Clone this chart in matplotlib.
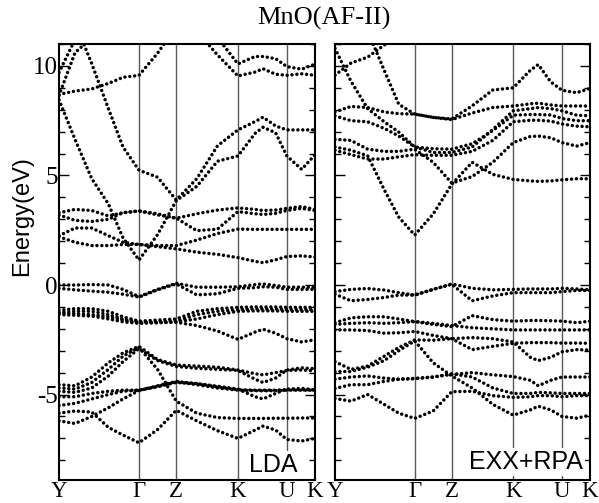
import numpy as np
import matplotlib.pyplot as plt
from matplotlib.ticker import MultipleLocator

plt.rcParams['font.family'] = 'Liberation Serif'
plt.rcParams['axes.unicode_minus'] = False

nan = np.nan

# k-path samples (fraction of path) and high-symmetry points
kpath = [0.0, 0.0625, 0.128, 0.193, 0.25, 0.3125, 0.385, 0.458, 0.538,
         0.619, 0.699, 0.766, 0.797, 0.846, 0.89, 0.948, 1.0]
sym_k = [0.0, 0.3125, 0.458, 0.699, 0.89, 1.0]
sym_labels = ['Y', 'Γ', 'Z', 'K', 'U', 'K']

# LDA bands (eV), one list per band along kpath
lda_ua = [9.7, 11.2, 12.0] + [nan] * 14
lda_ub = [8.65, 10.6, 11.3, 12.0] + [nan] * 13
lda_s1 = [8.45, 6.65, 4.85, 3.7, 2.15, 1.14, 2.3, 3.85, 4.5, 5.65, 5.89, 6.92, 7.2, 6.95, 5.89, 5.28, 5.94]
lda_s2 = [nan, 12.0, 10.1, 8.05, 6.3, 5.24, 4.92, 3.88, 4.85, 6.35, 7.08, 7.46, 7.66, 7.26, 7.08, 7.08, 7.08]
lda_f = [8.7, 8.85, 8.95, 9.2, 9.48, 9.57, 10.58, 11.8] + [nan] * 9
lda_x = [nan] * 8 + [11.6, 10.5, 9.54, 9.72, 9.87, 9.62, 9.57, 9.64, 9.57]
lda_w = [nan] * 8 + [12.2, 11.3, 10.09, 10.43, 10.43, 10.33, 9.97, 9.85, 10.08]
lda_la = [3.3, 3.45, 3.4, 3.15, 3.3, 3.38, 3.25, 3.05, 3.25, 3.42, 3.52, 3.45, 3.4, 3.42, 3.5, 3.58, 3.45]
lda_lb = [3.2, 2.95, 2.9, 3.0, 3.3, 3.38, 3.2, 3.05, 2.48, 2.55, 3.35, 3.25, 3.22, 3.27, 3.4, 3.5, 3.4]
lda_lc = [2.25, 2.6, 2.6, 2.25, 1.95, 1.85, 1.8, 1.8, 2.05, 2.35, 2.55, 2.54, 2.54, 2.54, 2.54, 2.54, 2.54]
lda_ld = [2.2, 1.95, 1.8, 1.8, 1.85, 1.85, 1.75, 1.65, 1.5, 1.4, 1.25, 1.08, 1.02, 1.15, 1.3, 1.33, 1.28]
lda_v1 = [0.0, 0.0, 0.02, 0.0, -0.2, -0.53, -0.2, 0.08, -0.1, -0.1, -0.08, 0.02, 0.05, -0.02, -0.1, -0.1, -0.1]
lda_v2 = [-0.15, -0.22, -0.28, -0.33, -0.42, -0.55, -0.22, 0.05, -0.45, -0.4, -0.15, -0.12, -0.08, -0.1, -0.2, -0.2, -0.2]
lda_c1 = [-1.15, -1.08, -1.08, -1.2, -1.45, -1.65, -1.6, -1.55, -1.2, -1.08, -1.02, -1.0, -1.0, -1.0, -1.02, -1.02, -1.02]
lda_c2 = [-1.25, -1.2, -1.2, -1.35, -1.55, -1.7, -1.68, -1.65, -1.35, -1.2, -1.12, -1.1, -1.1, -1.1, -1.12, -1.12, -1.14]
lda_c3 = [-1.35, -1.38, -1.42, -1.55, -1.68, -1.75, -1.72, -1.7, -1.85, -2.1, -2.48, -2.15, -2.02, -2.2, -2.45, -2.6, -2.5]
lda_c4 = [-1.3, -1.3, -1.35, -1.45, -1.6, -1.72, -1.72, -1.68, -1.55, -1.35, -1.2, -1.18, -1.18, -1.18, -1.2, -1.2, -1.2]
lda_d1 = [-4.55, -4.6, -4.2, -3.55, -3.1, -2.8, -3.4, -3.65, -3.7, -3.75, -3.88, -4.05, -4.1, -4.0, -3.9, -3.88, -3.92]
lda_d2 = [-4.7, -4.75, -4.45, -3.85, -3.25, -2.85, -3.85, -5.3, -5.85, -6.05, -6.09, -6.09, -6.09, -6.08, -6.08, -6.07, -6.07]
lda_d3 = [-4.85, -4.9, -4.7, -4.15, -3.5, -2.9, -3.45, -3.72, -3.8, -3.85, -3.9, -4.3, -4.45, -4.25, -3.88, -3.78, -3.82]
lda_g1 = [-5.85, -5.75, -5.8, -6.5, -6.85, -7.2, -6.6, -5.72, -6.2, -6.65, -7.0, -6.62, -6.44, -6.62, -7.05, -7.12, -7.0]
lda_g2 = [-6.2, -6.32, -6.0, -5.6, -5.2, -4.82, -4.6, -4.4, -4.5, -4.65, -4.78, -4.8, -4.8, -4.8, -4.78, -4.78, -4.8]
lda_g3 = [-5.5, -5.4, -5.2, -5.0, -4.85, -4.8, -4.65, -4.42, -4.55, -4.7, -4.8, -4.82, -4.83, -4.82, -4.8, -4.8, -4.8]
lda_g4 = [-5.1, -5.1, -4.95, -4.85, -4.8, -4.8, -4.62, -4.45, -4.5, -4.62, -4.75, -5.1, -5.2, -4.95, -4.75, -4.72, -4.78]

# EXX+RPA bands (eV)
exx_ra = [9.58, 10.13, 10.4, 10.95, 11.4, 11.8] + [nan] * 11
exx_t1 = [nan, nan, 11.6, 9.8, 8.25, 7.8, 7.65, 7.58, 8.18, 8.9, 9.0, 9.8, 10.06, 9.27, 8.89, 8.78, 8.97]
exx_t2 = [10.8, 9.3, 8.05, 7.45, 6.98, 6.3, 6.22, 6.2, 6.45, 7.05, 7.75, 7.78, 7.78, 7.76, 7.6, 7.5, 7.5]
exx_t3 = [7.9, 8.15, 8.1, 7.9, 7.82, 7.8, 7.65, 7.55, 7.85, 8.1, 8.17, 8.27, 8.3, 8.22, 8.17, 8.17, 8.17]
exx_t4 = [7.72, 7.5, 7.45, 7.15, 6.8, 6.3, 6.05, 6.05, 6.3, 7.1, 7.95, 8.05, 8.1, 8.05, 7.95, 7.75, 7.72]
exx_rd = [6.65, 6.6, 6.2, 6.1, 6.1, 6.2, 5.6, 4.65, 4.95, 5.6, 6.5, 6.78, 6.8, 6.72, 6.5, 6.34, 6.5]
exx_rs = [6.3, 6.15, 5.9, 4.35, 3.1, 2.28, 3.24, 4.6, 5.6, 5.05, 4.82, 4.75, 4.73, 4.75, 4.8, 4.85, 4.85]
exx_b3 = [6.15, 5.95, 5.75, 5.75, 5.85, 5.95, 5.92, 5.92, 6.1, 6.6, 7.45, 7.52, 7.52, 7.48, 7.35, 7.25, 7.22]
exx_v1 = [-0.3, -0.2, -0.16, -0.23, -0.35, -0.46, -0.2, 0.05, -0.15, -0.22, -0.2, -0.18, -0.18, -0.18, -0.15, -0.18, -0.22]
exx_v2 = [-0.42, -0.72, -0.66, -0.57, -0.46, -0.46, -0.2, 0.03, -0.72, -0.5, -0.35, -0.35, -0.35, -0.35, -0.3, -0.25, -0.25]
exx_w1 = [-1.72, -1.5, -1.45, -1.45, -1.55, -1.67, -1.8, -1.9, -1.4, -1.58, -1.65, -1.62, -1.62, -1.63, -1.65, -1.72, -1.65]
exx_w2 = [-1.8, -1.75, -1.72, -1.75, -1.72, -1.67, -1.75, -1.85, -1.95, -2.0, -2.05, -2.05, -2.05, -2.05, -2.05, -2.05, -2.05]
exx_w3 = [-2.05, -2.05, -2.08, -2.2, -2.18, -2.12, -2.3, -2.45, -2.95, -2.8, -2.66, -2.63, -2.63, -2.63, -2.65, -2.65, -2.66]
exx_w4 = [-3.5, -3.85, -3.7, -3.25, -2.85, -2.51, -2.52, -2.45, -2.4, -2.45, -2.6, -3.3, -3.45, -3.3, -3.05, -2.95, -2.97]
exx_w5 = [-3.95, -3.95, -3.75, -3.45, -3.0, -2.55, -3.55, -4.15, -4.7, -5.45, -5.94, -5.7, -5.53, -5.7, -6.0, -6.08, -5.94]
exx_w6 = [-4.3, -4.2, -4.15, -4.25, -4.3, -4.26, -4.2, -4.08, -4.0, -4.1, -4.18, -4.35, -4.6, -4.35, -4.2, -4.2, -4.2]
exx_w7 = [-5.18, -5.3, -5.0, -5.45, -5.85, -6.09, -5.75, -4.87, -4.85, -5.05, -5.13, -5.1, -5.05, -5.05, -5.1, -5.05, -5.05]
exx_w8 = [-4.72, -4.55, -4.55, -4.4, -4.3, -4.28, -4.2, -4.05, -4.2, -4.7, -4.95, -4.95, -4.9, -4.92, -4.95, -4.95, -4.95]

lda_bands = [lda_ua, lda_ub, lda_s1, lda_s2, lda_f, lda_x, lda_w, lda_la, lda_lb,
             lda_lc, lda_ld, lda_v1, lda_v2, lda_c1, lda_c2, lda_c3, lda_c4,
             lda_d1, lda_d2, lda_d3, lda_g1, lda_g2, lda_g3, lda_g4]
exx_bands = [exx_ra, exx_t1, exx_t2, exx_t3, exx_t4, exx_rd, exx_rs, exx_b3,
             exx_v1, exx_v2, exx_w1, exx_w2, exx_w3, exx_w4, exx_w5, exx_w6,
             exx_w7, exx_w8]

fig = plt.figure(figsize=(5.99, 5.03), dpi=100)
ax1 = fig.add_axes([59/599, 23/503, 256/599, 436/503])
ax2 = fig.add_axes([335/599, 23/503, 255/599, 436/503])

for ax, bands in [(ax1, lda_bands), (ax2, exx_bands)]:
    for kx in sym_k[1:-1]:
        ax.axvline(kx, color='0.35', lw=1, zorder=1)
    for b in bands:
        ax.plot(kpath, b, color='black', lw=2.5, linestyle=(0, (0.01, 1.4)),
                dash_capstyle='round', zorder=2)
    ax.set_xlim(0, 1)
    ax.set_ylim(-8.9, 11)
    ax.set_xticks(sym_k)
    ax.set_xticklabels(sym_labels, fontsize=16.5)
    ax.tick_params(axis='x', length=0, pad=1)
    ax.set_yticks([-5, 0, 5, 10])
    ax.yaxis.set_minor_locator(MultipleLocator(1))
    ax.tick_params(axis='y', which='both', direction='in', left=True, right=True, width=1)
    ax.tick_params(axis='y', which='major', length=7, labelsize=18, pad=1)
    ax.tick_params(axis='y', which='minor', length=4)
    for s in ax.spines.values():
        s.set_linewidth(1.5)

ax2.tick_params(axis='y', labelleft=False)

ax1.text(0.93, 0.018, 'LDA', transform=ax1.transAxes, ha='right', va='baseline',
         fontsize=18, family='Liberation Sans', zorder=5,
         bbox=dict(facecolor='white', edgecolor='none', pad=1.5))
ax2.text(0.973, 0.025, 'EXX+RPA', transform=ax2.transAxes, ha='right', va='baseline',
         fontsize=18, family='Liberation Sans', zorder=5,
         bbox=dict(facecolor='white', edgecolor='none', pad=1.5))

fig.text(324/599, 1 - 18/503, 'MnO(AF-II)', ha='center', va='center', fontsize=19)
fig.text(0.037, 0.5706, 'Energy(eV)', rotation=90, ha='center', va='center',
         fontsize=17, family='Liberation Sans')

fig.savefig('out.png', dpi=100)
